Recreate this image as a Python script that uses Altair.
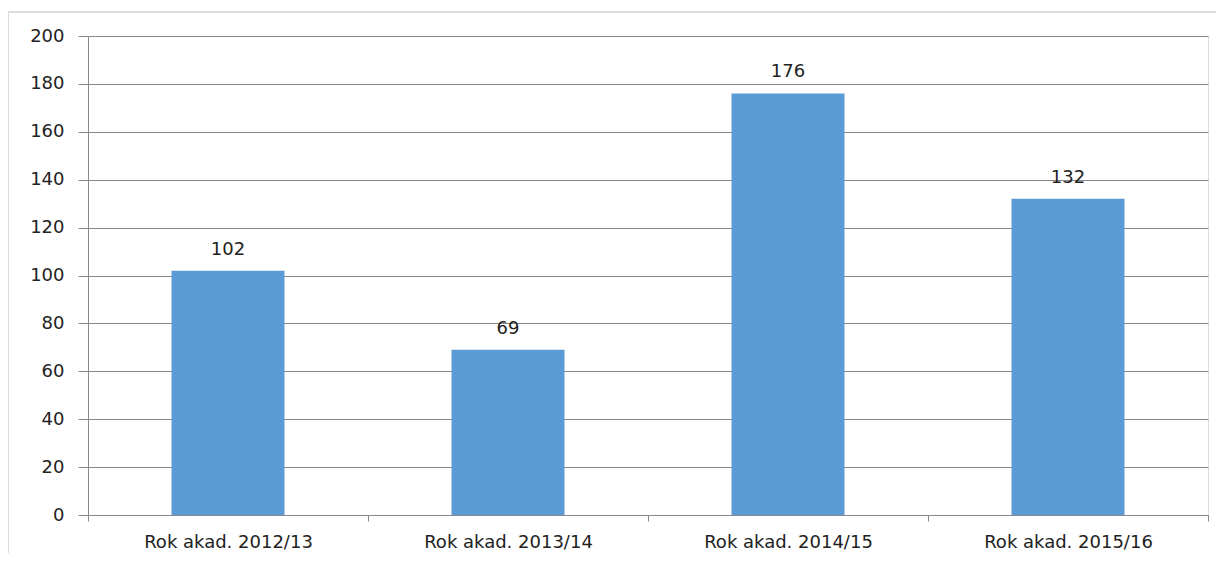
import altair as alt
import pandas as pd

categories = ["Rok akad. 2012/13", "Rok akad. 2013/14", "Rok akad. 2014/15", "Rok akad. 2015/16"]
values = [102, 69, 176, 132]
y_ticks = [0, 20, 40, 60, 80, 100, 120, 140, 160, 180, 200]

df = pd.DataFrame({"cat": categories, "val": values})

FONT = "DejaVu Sans"
W, H = 1120, 479

x_enc = alt.X("cat:N", sort=categories, title=None,
              scale=alt.Scale(paddingInner=0, paddingOuter=0),
              axis=alt.Axis(tickBand="extent", labelAngle=0, labelFont=FONT, labelFontSize=18,
                            labelColor="#222222", labelPadding=12, tickSize=6, tickColor="#888888",
                            domainColor="#888888", grid=False))
y_enc = alt.Y("val:Q", title=None,
              scale=alt.Scale(domain=[0, 200], nice=False),
              axis=alt.Axis(values=y_ticks, labelFont=FONT, labelFontSize=18, labelColor="#222222",
                            labelPadding=14, tickSize=10, tickColor="#888888", domainColor="#888888",
                            gridColor="#888888", gridWidth=1))

base = alt.Chart(df)
bars = base.mark_bar(size=113, color="#5B9BD5").encode(x=x_enc, y=y_enc)
labels = base.mark_text(baseline="bottom", dy=-12, font=FONT, fontSize=18, color="#222222").encode(
    x=alt.X("cat:N", sort=categories), y="val:Q", text="val:Q")

frame = alt.Chart(df).mark_rect(fill=None, stroke="#d9d9d9", strokeWidth=1, clip=False).encode(
    x=alt.value(-80), x2=alt.value(W + 20), y=alt.value(-24), y2=alt.value(H + 60))

chart = alt.layer(frame, bars, labels).properties(
    width=W, height=H,
    autosize=alt.AutoSizeParams(type="none"),
    padding={"left": 80, "top": 28, "right": 8, "bottom": 38},
).configure_view(stroke=None).configure(background="white")

chart.save("out.html", embed_options={"renderer": "svg", "actions": False})
